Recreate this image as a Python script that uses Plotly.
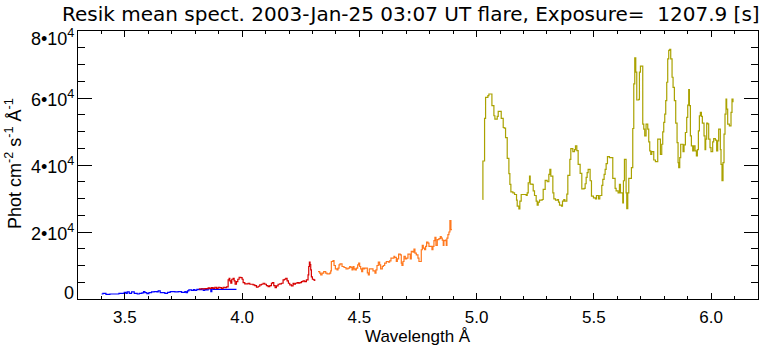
import plotly.graph_objects as go

# ---------------- data ----------------
blue_wl = [3.4006, 3.4063, 3.4191, 3.4361, 3.4745, 3.4972, 3.5043, 3.5100, 3.5185, 3.5284,
           3.5398, 3.5526, 3.5611, 3.5724, 3.5795, 3.5852, 3.5937, 3.6023, 3.6136, 3.6250,
           3.6364, 3.6420, 3.6506, 3.6704, 3.6818, 3.6932, 3.7131, 3.7273, 3.7415, 3.7557,
           3.7613, 3.7670, 3.7727, 3.7840, 3.7926, 3.7983, 3.8068, 3.8153, 3.8267, 3.8338,
           3.8409, 3.8480, 3.8551, 3.8622, 3.8665, 3.8707, 3.8764, 3.9758]
blue_val = [1500, 1700, 1400, 1500, 1700, 2000, 1700, 2100, 1700, 2100,
            1700, 1500, 1700, 1800, 2200, 1900, 1600, 1900, 2100, 2200,
            2100, 2400, 1900, 1700, 2000, 2200, 2100, 2200, 2000, 2200,
            1900, 2400, 2700, 2600, 2800, 2600, 2900, 2800, 3000, 2600,
            2800, 2700, 3100, 3000, 2200, 3100, 2900, 2900]

red_wl = [3.8153, 3.8409, 3.8551, 3.8622, 3.8693, 3.8764, 3.8835, 3.8906, 3.8977, 3.9048,
          3.9119, 3.9190, 3.9261, 3.9332, 3.9403, 3.9446, 3.9474, 3.9517, 3.9559, 3.9616,
          3.9659, 3.9701, 3.9758, 3.9815, 3.9872, 3.9943, 3.9999, 4.0042, 4.0113, 4.0184,
          4.0255, 4.0326, 4.0397, 4.0468, 4.0539, 4.0610, 4.0681, 4.0752, 4.0823, 4.0894,
          4.0965, 4.1036, 4.1107, 4.1178, 4.1249, 4.1292, 4.1349, 4.1406, 4.1462, 4.1533,
          4.1604, 4.1675, 4.1746, 4.1803, 4.1860, 4.1917, 4.1974, 4.2030, 4.2101, 4.2172,
          4.2215, 4.2272, 4.2343, 4.2400, 4.2456, 4.2527, 4.2598, 4.2669, 4.2740, 4.2783,
          4.2811, 4.2840, 4.2868, 4.2897, 4.2925, 4.2953, 4.2996, 4.3053, 4.3096]
red_val = [3000, 3100, 3300, 3200, 3400, 3200, 3500, 3200, 3500, 3400,
           3200, 3500, 3400, 3600, 5700, 6200, 5400, 4700, 5900, 6200,
           5400, 4400, 5200, 5900, 6500, 6400, 5900, 4900, 4500, 4500,
           4700, 4400, 4400, 4200, 4000, 3500, 3800, 4200, 4400, 4700,
           4400, 4000, 3700, 4000, 4700, 4900, 4000, 3400, 3900, 4400,
           4500, 4700, 5700, 5900, 6200, 5400, 4700, 4200, 3900, 4700,
           4400, 4700, 4900, 4700, 4900, 5200, 5400, 5200, 5700, 5700,
           7200, 9700, 11000, 10300, 8700, 6600, 5900, 5700, 5400]

orange_wl = [4.3237, 4.3308, 4.3351, 4.3408, 4.3479, 4.3564, 4.3621, 4.3734, 4.3777, 4.3805,
             4.3876, 4.3919, 4.3976, 4.4047, 4.4089, 4.4132, 4.4174, 4.4260, 4.4345, 4.4430,
             4.4515, 4.4586, 4.4643, 4.4686, 4.4728, 4.4771, 4.4814, 4.4870, 4.4927, 4.4970,
             4.5012, 4.5055, 4.5098, 4.5140, 4.5183, 4.5225, 4.5296, 4.5339, 4.5382, 4.5424,
             4.5509, 4.5580, 4.5665, 4.5708, 4.5751, 4.5808, 4.5864, 4.5907, 4.5978, 4.6021,
             4.6078, 4.6149, 4.6234, 4.6290, 4.6347, 4.6418, 4.6475, 4.6504, 4.6575, 4.6618,
             4.6674, 4.6745, 4.6788, 4.6816, 4.6859, 4.6902, 4.6958, 4.7015, 4.7072, 4.7143,
             4.7171, 4.7214, 4.7285, 4.7328, 4.7370, 4.7427, 4.7498, 4.7541, 4.7640, 4.7683,
             4.7725, 4.7782, 4.7825, 4.7867, 4.7924, 4.7967, 4.8038, 4.8095, 4.8137, 4.8180,
             4.8222, 4.8265, 4.8322, 4.8393, 4.8450, 4.8492, 4.8535, 4.8577, 4.8606, 4.8663,
             4.8705, 4.8734, 4.8776, 4.8819, 4.8861, 4.8904, 4.8947]
orange_val = [8200, 7700, 7200, 7700, 8200, 7700, 7500, 7700, 8400, 11200,
              11500, 10000, 9000, 8700, 9200, 10200, 10500, 9700, 9400, 9000,
              9200, 9700, 9400, 8700, 9700, 9000, 8700, 9200, 10200, 10700,
              9700, 9000, 8200, 9200, 9000, 9200, 9200, 7800, 7200, 9000,
              9000, 8400, 7700, 8700, 10000, 11000, 10200, 9000, 9700, 10000,
              10700, 11200, 11000, 11400, 12200, 12200, 12700, 12400, 11200, 12000,
              13400, 13200, 10700, 10000, 11200, 12700, 12000, 12200, 13400, 13400,
              12000, 14200, 14000, 14900, 13700, 13200, 12200, 11200, 14700, 16000,
              15200, 14700, 15700, 17000, 16700, 15700, 15700, 14700, 15700, 17400,
              18400, 16000, 17700, 18000, 18600, 18200, 17600, 16000, 17400, 17600,
              16000, 18200, 19200, 20000, 23400, 20700, 20700]

olive_wl = [5.0254, 5.0268, 5.0339, 5.0382, 5.0481, 5.0524, 5.0652, 5.0737, 5.0779, 5.0879,
            5.0921, 5.1049, 5.1134, 5.1177, 5.1234, 5.1305, 5.1376, 5.1418, 5.1461, 5.1546,
            5.1617, 5.1702, 5.1731, 5.1802, 5.1844, 5.1901, 5.2114, 5.2157, 5.2200, 5.2256,
            5.2285, 5.2370, 5.2413, 5.2469, 5.2540, 5.2583, 5.2626, 5.2682, 5.2796, 5.2839,
            5.2924, 5.3009, 5.3080, 5.3123, 5.3165, 5.3251, 5.3293, 5.3364, 5.3449, 5.3492,
            5.3535, 5.3620, 5.3662, 5.3719, 5.3762, 5.3847, 5.3890, 5.3975, 5.4017, 5.4103,
            5.4174, 5.4216, 5.4273, 5.4330, 5.4415, 5.4486, 5.4585, 5.4628, 5.4671, 5.4713,
            5.4756, 5.4841, 5.4898, 5.4983, 5.5068, 5.5111, 5.5196, 5.5253, 5.5338, 5.5381,
            5.5437, 5.5480, 5.5523, 5.5580, 5.5665, 5.5807, 5.5906, 5.5949, 5.6034, 5.6091,
            5.6134, 5.6233, 5.6261, 5.6304, 5.6375, 5.6403, 5.6446, 5.6489, 5.6602, 5.6659,
            5.6702, 5.6744, 5.6787, 5.6830, 5.6915, 5.6943, 5.6986, 5.7085, 5.7128, 5.7170,
            5.7227, 5.7298, 5.7341, 5.7383, 5.7426, 5.7469, 5.7554, 5.7625, 5.7724, 5.7809,
            5.7838, 5.7895, 5.7937, 5.7980, 5.8023, 5.8065, 5.8108, 5.8150, 5.8193, 5.8236,
            5.8278, 5.8335, 5.8378, 5.8434, 5.8491, 5.8548, 5.8591, 5.8619, 5.8662, 5.8704,
            5.8775, 5.8804, 5.8846, 5.8903, 5.8960, 5.9003, 5.9045, 5.9074, 5.9116, 5.9159,
            5.9216, 5.9258, 5.9315, 5.9372, 5.9414, 5.9457, 5.9500, 5.9542, 5.9585, 5.9627,
            5.9698, 5.9741, 5.9769, 5.9812, 5.9854, 5.9897, 5.9954, 5.9996, 6.0067, 6.0110,
            6.0181, 6.0238, 6.0281, 6.0323, 6.0394, 6.0423, 6.0465, 6.0508, 6.0551, 6.0593,
            6.0636, 6.0664, 6.0707, 6.0778, 6.0849, 6.0891, 6.0934]
olive_val = [29700, 41200, 53900, 60200, 60700, 61200, 57700, 54700, 53700, 54500,
             56000, 53900, 51200, 51000, 48200, 42000, 37400, 34200, 32000, 31700,
             31200, 29500, 27700, 26900, 29200, 31200, 30900, 31700, 34700, 36700,
             34300, 34200, 32300, 30900, 29200, 28000, 28900, 29500, 29700, 32700,
             35400, 35000, 37200, 38700, 36700, 31700, 29900, 29500, 29700, 28900,
             28000, 27700, 29200, 29700, 29200, 31300, 36900, 41700, 44900, 44000,
             44600, 45700, 44300, 40200, 37500, 32900, 33000, 34400, 36300, 37700,
             38700, 35300, 30700, 30200, 29900, 30900, 29900, 30900, 33900, 35700,
             37200, 38700, 40400, 42500, 42200, 36000, 33000, 32300, 31700, 34200,
             31700, 28700, 35300, 41700, 31700, 27000, 31700, 36000, 39200, 50900,
             64200, 72000, 67700, 59400, 59600, 67700, 69500, 52200, 50700, 48700,
             52200, 50700, 46900, 44200, 43200, 44000, 41500, 41000, 47700, 47700,
             43200, 46200, 49900, 52700, 55200, 59200, 64700, 71700, 74200, 74500,
             71700, 66200, 63200, 59200, 52500, 46700, 40700, 39200, 42200, 46200,
             46200, 44000, 46000, 49700, 54200, 57900, 62500, 57700, 48700, 45700,
             44200, 45700, 44200, 42700, 44600, 50200, 54700, 55700, 54500, 52500,
             48700, 44600, 47700, 52500, 52300, 47700, 45200, 44000, 46900, 47900,
             47400, 44200, 47200, 50700, 44600, 40200, 35300, 40700, 49200, 55200,
             59700, 56700, 52200, 51700, 55700, 59700, 58700]

series = [
    (blue_wl, blue_val, "rgb(0,0,255)"),
    (red_wl, red_val, "rgb(215,0,0)"),
    (orange_wl, orange_val, "rgb(255,120,30)"),
    (olive_wl, olive_val, "rgb(170,162,0)"),
]

y_tickvals = [0, 20000, 40000, 60000, 80000]
y_ticktext = ["0", "2•10<sup>4</sup>", "4•10<sup>4</sup>", "6•10<sup>4</sup>", "8•10<sup>4</sup>"]
y_label_shift = [6, 0, 0, 0, -6]   # end labels pulled inside the axis span, as in the reference
x_tickvals = [3.5, 4.0, 4.5, 5.0, 5.5, 6.0]
x_ticktext = ["3.5", "4.0", "4.5", "5.0", "5.5", "6.0"]

title_text = "Resik mean spect. 2003-Jan-25 03:07 UT flare, Exposure=  1207.9 [s]"
x_title = "Wavelength Å"
y_title = "Phot cm<sup>-2</sup> s<sup>-1</sup> Å<sup>-1</sup>"

FONT = "Liberation Sans, Arial, sans-serif"
TFONT = "DejaVu Sans, sans-serif"

fig = go.Figure()
for wl, val, col in series:
    fig.add_trace(go.Scatter(x=wl, y=val, mode="lines",
                             line=dict(color=col, width=1.2, shape="hv"),
                             showlegend=False, hoverinfo="skip"))

W, H = 779, 349
L, R, T, B = 78, 21, 31, 50

fig.update_layout(
    width=W, height=H,
    margin=dict(l=L, r=R, t=T, b=B, pad=0),
    paper_bgcolor="white", plot_bgcolor="white",
    font=dict(family=FONT, size=17, color="black"),
    showlegend=False,
)
fig.update_xaxes(
    range=[3.3, 6.2], tickvals=x_tickvals, ticktext=x_ticktext,
    ticks="inside", ticklen=6, tickwidth=1, tickcolor="black",
    showline=True, linecolor="black", linewidth=1, mirror="ticks",
    showgrid=False, zeroline=False, ticklabelstandoff=3,
    tickfont=dict(size=17, family=FONT),
    minor=dict(dtick=0.1, tick0=3.3, ticks="inside", ticklen=3, tickcolor="black", showgrid=False),
)
fig.update_yaxes(
    range=[0, 80000], tickvals=y_tickvals, showticklabels=False,
    ticks="inside", ticklen=14, tickwidth=1, tickcolor="black",
    showline=True, linecolor="black", linewidth=1, mirror="ticks",
    showgrid=False, zeroline=False,
    minor=dict(dtick=5000, tick0=0, ticks="inside", ticklen=7, tickcolor="black", showgrid=False),
)

for v, txt, sh in zip(y_tickvals, y_ticktext, y_label_shift):
    fig.add_annotation(text=txt, xref="paper", yref="y", x=0, y=v,
                       xanchor="right", yanchor="middle", xshift=-2, yshift=sh,
                       showarrow=False, font=dict(size=18, family=FONT))

PW, PH = W - L - R, H - T - B
fig.add_annotation(text=title_text, xref="paper", yref="paper",
                   x=(410.5 - L) / PW, y=(H - B - 14) / PH,
                   xanchor="center", yanchor="middle", showarrow=False,
                   font=dict(size=20, family=TFONT))
fig.add_annotation(text=x_title, xref="paper", yref="paper",
                   x=(418 - L) / PW, y=-(336 - (H - B)) / PH,
                   xanchor="center", yanchor="middle", showarrow=False,
                   font=dict(size=17, family=FONT))
fig.add_annotation(text=y_title, xref="paper", yref="paper",
                   x=(13 - L) / PW, y=((H - B) - 164) / PH, textangle=-90,
                   xanchor="center", yanchor="middle", showarrow=False,
                   font=dict(size=18, family=FONT))

fig.write_html("out.html")
